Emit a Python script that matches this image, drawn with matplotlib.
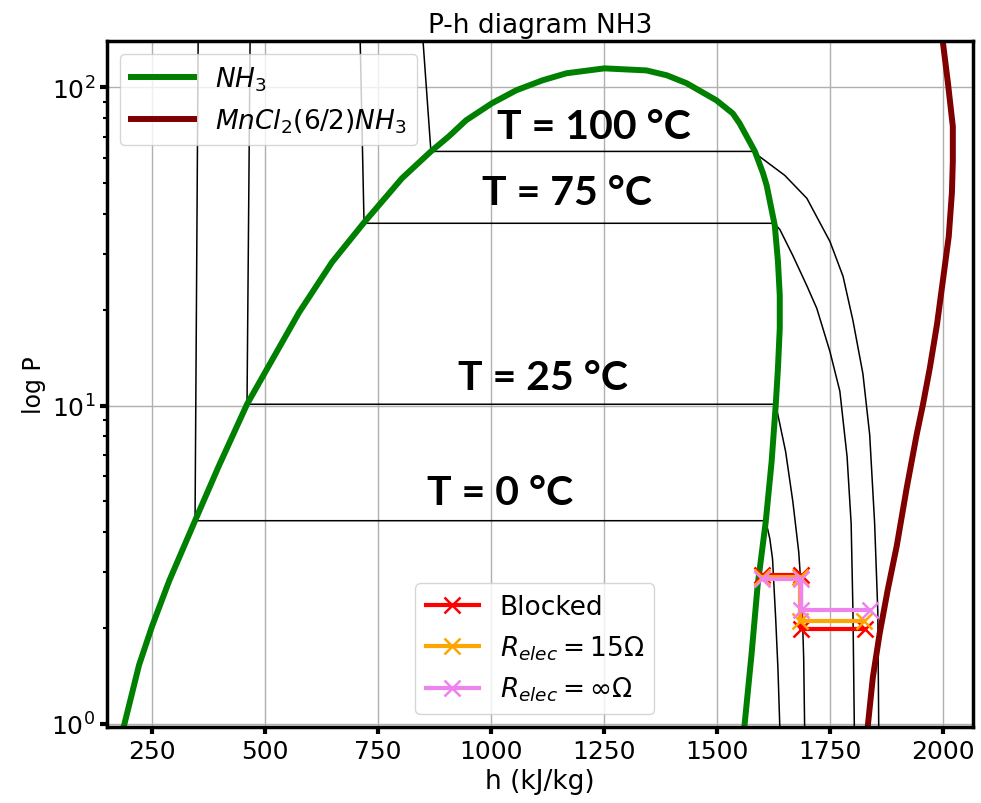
import numpy as np
import matplotlib
matplotlib.use("Agg")
import matplotlib.pyplot as plt

# saturation dome NH3 (h kJ/kg, P bar)
h_sat = [175, 188, 221, 250, 288, 345, 398, 460, 509, 575, 648, 719, 803, 867, 907, 945,
         1002, 1056, 1114, 1167, 1251, 1344, 1389, 1433, 1499, 1535, 1550, 1584,
         1602, 1610, 1628, 1635, 1639, 1639, 1635, 1630, 1621, 1608, 1590, 1577, 1561, 1558]
p_sat = [0.9, 0.99, 1.53, 2.03, 2.82, 4.35, 6.48, 10.1, 13.4, 19.6, 28.2, 37.6, 51.8, 62.9, 70.2, 78.8,
         89.1, 97.9, 105.2, 110.7, 114.7, 113.0, 109.1, 103.0, 91.0, 82.8, 77.1, 62.9,
         53.7, 49.2, 36.8, 28.4, 22.2, 17.5, 13.1, 10.0, 6.67, 4.32, 2.72, 1.68, 0.99, 0.9]

# MnCl2(6/2)NH3 equilibrium line
h_salt = [1996, 2000, 2011, 2022, 2022, 2020, 2013, 2000, 1987, 1971, 1956, 1942, 1920, 1898,
          1878, 1860, 1845, 1834, 1830]
p_salt = [153, 138.6, 103.7, 75.4, 58.5, 46.7, 34.0, 24.7, 18.0, 13.1, 10.1, 8.11, 5.52, 3.63,
          2.64, 1.92, 1.40, 0.99, 0.9]

# isotherms
h_T0 = [352, 345, 1608, 1617, 1623, 1630, 1635, 1639, 1640]
p_T0 = [150, 4.35, 4.35, 3.82, 3.30, 2.14, 1.49, 0.99, 0.9]
h_T25 = [467, 460, 1630, 1639, 1652, 1668, 1681, 1688, 1692, 1694, 1695]
p_T25 = [150, 10.1, 10.1, 8.78, 7.17, 4.99, 3.47, 2.47, 1.60, 0.99, 0.9]
h_T75 = [710, 719, 1626, 1639, 1668, 1699, 1721, 1750, 1772, 1788, 1797, 1801, 1804, 1805]
p_T75 = [150, 37.4, 37.4, 35.8, 29.6, 23.8, 20.2, 14.8, 11.1, 6.91, 4.26, 2.25, 0.99, 0.9]
h_T100 = [848, 867, 1579, 1650, 1699, 1750, 1779, 1801, 1823, 1838, 1849, 1856, 1858, 1859]
p_T100 = [150, 62.9, 62.9, 52.9, 44.8, 32.8, 25.5, 18.5, 12.6, 8.11, 4.26, 2.25, 0.99, 0.9]

# measured paths
h_blocked = [1600, 1686, 1686, 1828]
p_blocked = [2.94, 2.94, 1.99, 1.99]
h_r15 = [1600, 1684, 1684, 1826]
p_r15 = [2.90, 2.90, 2.11, 2.11]
h_rinf = [1600, 1685, 1685, 1838]
p_rinf = [2.86, 2.86, 2.28, 2.28]

fig = plt.figure(figsize=(9.81, 8.04), dpi=100)
ax = fig.add_axes([0.109, 0.0945, 0.883, 0.8535])

for hh, pp in [(h_T0, p_T0), (h_T25, p_T25), (h_T75, p_T75), (h_T100, p_T100)]:
    ax.plot(hh, pp, color='black', lw=1.1)

l1, = ax.plot(h_sat, p_sat, color='green', lw=4.3, label='$NH_3$')
l2, = ax.plot(h_salt, p_salt, color='#800000', lw=4.3, label='$MnCl_2(6/2)NH_3$')

mk = dict(lw=3, marker='x', ms=11, mew=1.8)
m1, = ax.plot(h_blocked, p_blocked, color='red', label='Blocked', **mk)
m2, = ax.plot(h_r15, p_r15, color='orange', label=r'$R_{elec} = 15\Omega$', **mk)
m3, = ax.plot(h_rinf, p_rinf, color='violet', label=r'$R_{elec} = \infty\Omega$', **mk)

ax.set_yscale('log')
ax.set_xlim(150, 2067)
ax.set_ylim(0.978, 140)
ax.grid(True, which='major', color='#b0b0b0', lw=1)
ax.set_axisbelow(True)

ax.set_title('P-h diagram NH3', fontsize=19)
ax.set_xlabel('h (kJ/kg)', fontsize=19)
ax.set_ylabel('log P', fontsize=17)
ax.tick_params(axis='both', which='major', labelsize=18, width=3, length=5)
ax.tick_params(axis='y', which='minor', width=1.5, length=3)
for s in ax.spines.values():
    s.set_linewidth(2.5)

leg1 = ax.legend(handles=[l1, l2], loc='upper left', fontsize=19, handlelength=2.4)
ax.add_artist(leg1)
ax.legend(handles=[m1, m2, m3], loc='lower center', bbox_to_anchor=(0.494, 0.0), fontsize=19)

tfont = dict(fontsize=29.5, fontweight='bold', family=['Lato', 'DejaVu Sans'], ha='center', va='center')
ax.text(1227, 75.4, 'T = 100 °C', **tfont)
ax.text(1167, 46.8, 'T = 75 °C', **tfont)
ax.text(1114, 12.25, 'T = 25 °C', **tfont)
ax.text(1019, 5.33, 'T = 0 °C', **tfont)

fig.savefig('out.png', dpi=100)
